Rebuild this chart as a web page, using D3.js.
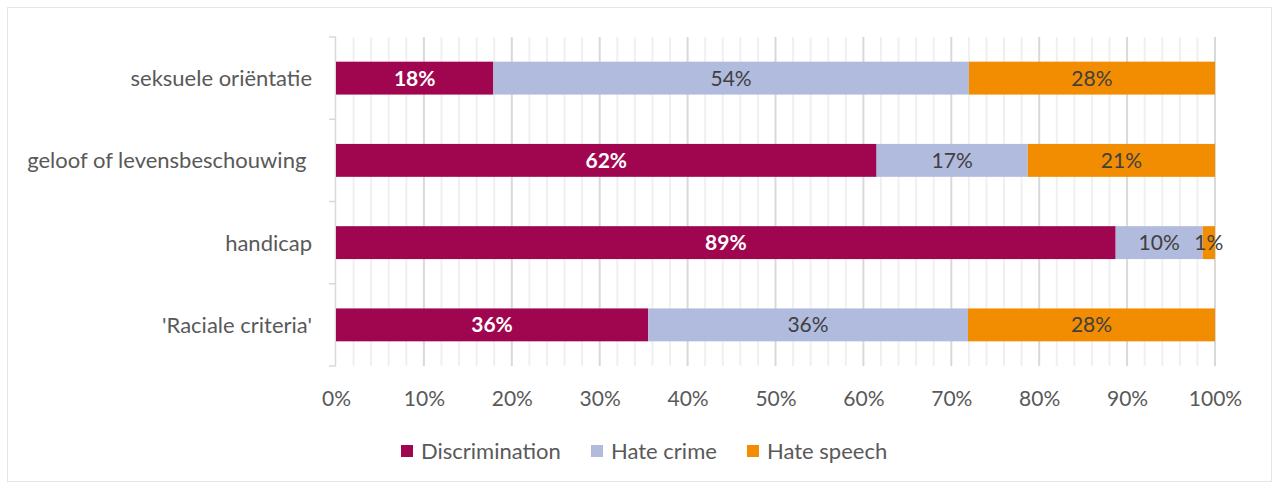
<!DOCTYPE html>
<html><head><meta charset="utf-8">
<script src="https://cdn.jsdelivr.net/npm/d3@7"></script>
<style>
html,body{margin:0;padding:0;background:#fff;}
svg{display:block;font-family:Lato,"Noto Sans",sans-serif;}
</style></head>
<body><svg id="c" width="1274" height="486"></svg>
<script>
const categories = ["seksuele oriëntatie", "geloof of levensbeschouwing ", "handicap", "'Raciale criteria'"];
const seriesNames = ["Discrimination", "Hate crime", "Hate speech"];
const discrimination = [17.9, 61.5, 88.7, 35.5];
const hateCrime = [54.1, 17.2, 9.9, 36.4];
const hateSpeech = [28.0, 21.3, 1.4, 28.1];
const labels = [["18%","54%","28%"],["62%","17%","21%"],["89%","10%","1%"],["36%","36%","28%"]];
const tickValues = [0,10,20,30,40,50,60,70,80,90,100];
const colors = ["#a0064f", "#b1bbdd", "#f28c00"];

const svg = d3.select("#c");
svg.append("rect").attr("x",7.5).attr("y",7.5).attr("width",1264).attr("height",474)
  .attr("fill","#fff").attr("stroke","#e6e6e6").attr("stroke-width",1);

const L=336, R=1215, T=37, B=366;
const x = d3.scaleLinear().domain([0,100]).range([L,R]);
const y = d3.scaleBand().domain(categories).range([T,B]).paddingInner(0.6).paddingOuter(0.3);
const yb = d3.scaleBand().domain(categories).range([T,B]);

const g = svg.append("g");
g.selectAll(".minor").data(d3.range(2,100,2).filter(v=>v%10!==0)).join("line")
  .attr("x1",d=>x(d)).attr("x2",d=>x(d)).attr("y1",T).attr("y2",B)
  .attr("stroke","#f0f0f0").attr("stroke-width",2);
g.selectAll(".major").data(tickValues.slice(1)).join("line")
  .attr("x1",d=>x(d)).attr("x2",d=>x(d)).attr("y1",T).attr("y2",B)
  .attr("stroke","#d9d9d9").attr("stroke-width",2);

svg.append("line").attr("x1",L-0.5).attr("x2",L-0.5).attr("y1",T).attr("y2",B)
  .attr("stroke","#d9d9d9").attr("stroke-width",1.5);
const bounds = categories.map(c=>yb(c)).concat([B]);
svg.selectAll(".yt").data(bounds).join("line")
  .attr("x1",L-7).attr("x2",L).attr("y1",d=>d).attr("y2",d=>d)
  .attr("stroke","#d9d9d9").attr("stroke-width",1.5);

const rows = categories.map((c,i)=>({cat:c, Discrimination:discrimination[i], "Hate crime":hateCrime[i], "Hate speech":hateSpeech[i], idx:i}));
const stack = d3.stack().keys(seriesNames)(rows);

stack.forEach((layer,si)=>{
  const lg = svg.append("g");
  lg.selectAll("rect").data(layer).join("rect")
    .attr("x",d=>x(d[0])).attr("width",d=>x(d[1])-x(d[0]))
    .attr("y",d=>y(d.data.cat)).attr("height",y.bandwidth())
    .attr("fill",colors[si]);
  lg.selectAll("text").data(layer).join("text")
    .attr("x",d=>(x(d[0])+x(d[1]))/2)
    .attr("y",d=>y(d.data.cat)+y.bandwidth()/2)
    .attr("dy","0.36em").attr("text-anchor","middle")
    .attr("font-size",21)
    .attr("font-weight",si===0?"bold":"normal")
    .attr("fill",si===0?"#ffffff":"#404040")
    .text(d=>labels[d.data.idx][si]);
});

svg.selectAll(".cl").data(categories).join("text")
  .attr("x",312).attr("y",d=>y(d)+y.bandwidth()/2).attr("dy","0.36em")
  .attr("text-anchor","end").attr("font-size",22).attr("fill","#595959")
  .style("white-space","pre")
  .text(d=>d);

const xa = svg.append("g").attr("transform",`translate(0,${B})`)
  .call(d3.axisBottom(x).tickValues(tickValues).tickFormat(d=>d+"%").tickSize(0).tickPadding(25));
xa.select(".domain").remove();
xa.selectAll("text").attr("font-size",21).attr("fill","#595959").attr("font-family","Lato,'Noto Sans',sans-serif");

const legX = [401, 591, 747];
const leg = svg.selectAll(".lg").data(seriesNames).join("g")
  .attr("transform",(d,i)=>`translate(${legX[i]},451)`);
leg.append("rect").attr("x",0).attr("y",-6).attr("width",12).attr("height",12)
  .attr("fill",(d,i)=>colors[i]);
leg.append("text").attr("x",20).attr("y",0).attr("dy","0.36em")
  .attr("font-size",22).attr("fill","#595959").text(d=>d);
</script></body></html>
